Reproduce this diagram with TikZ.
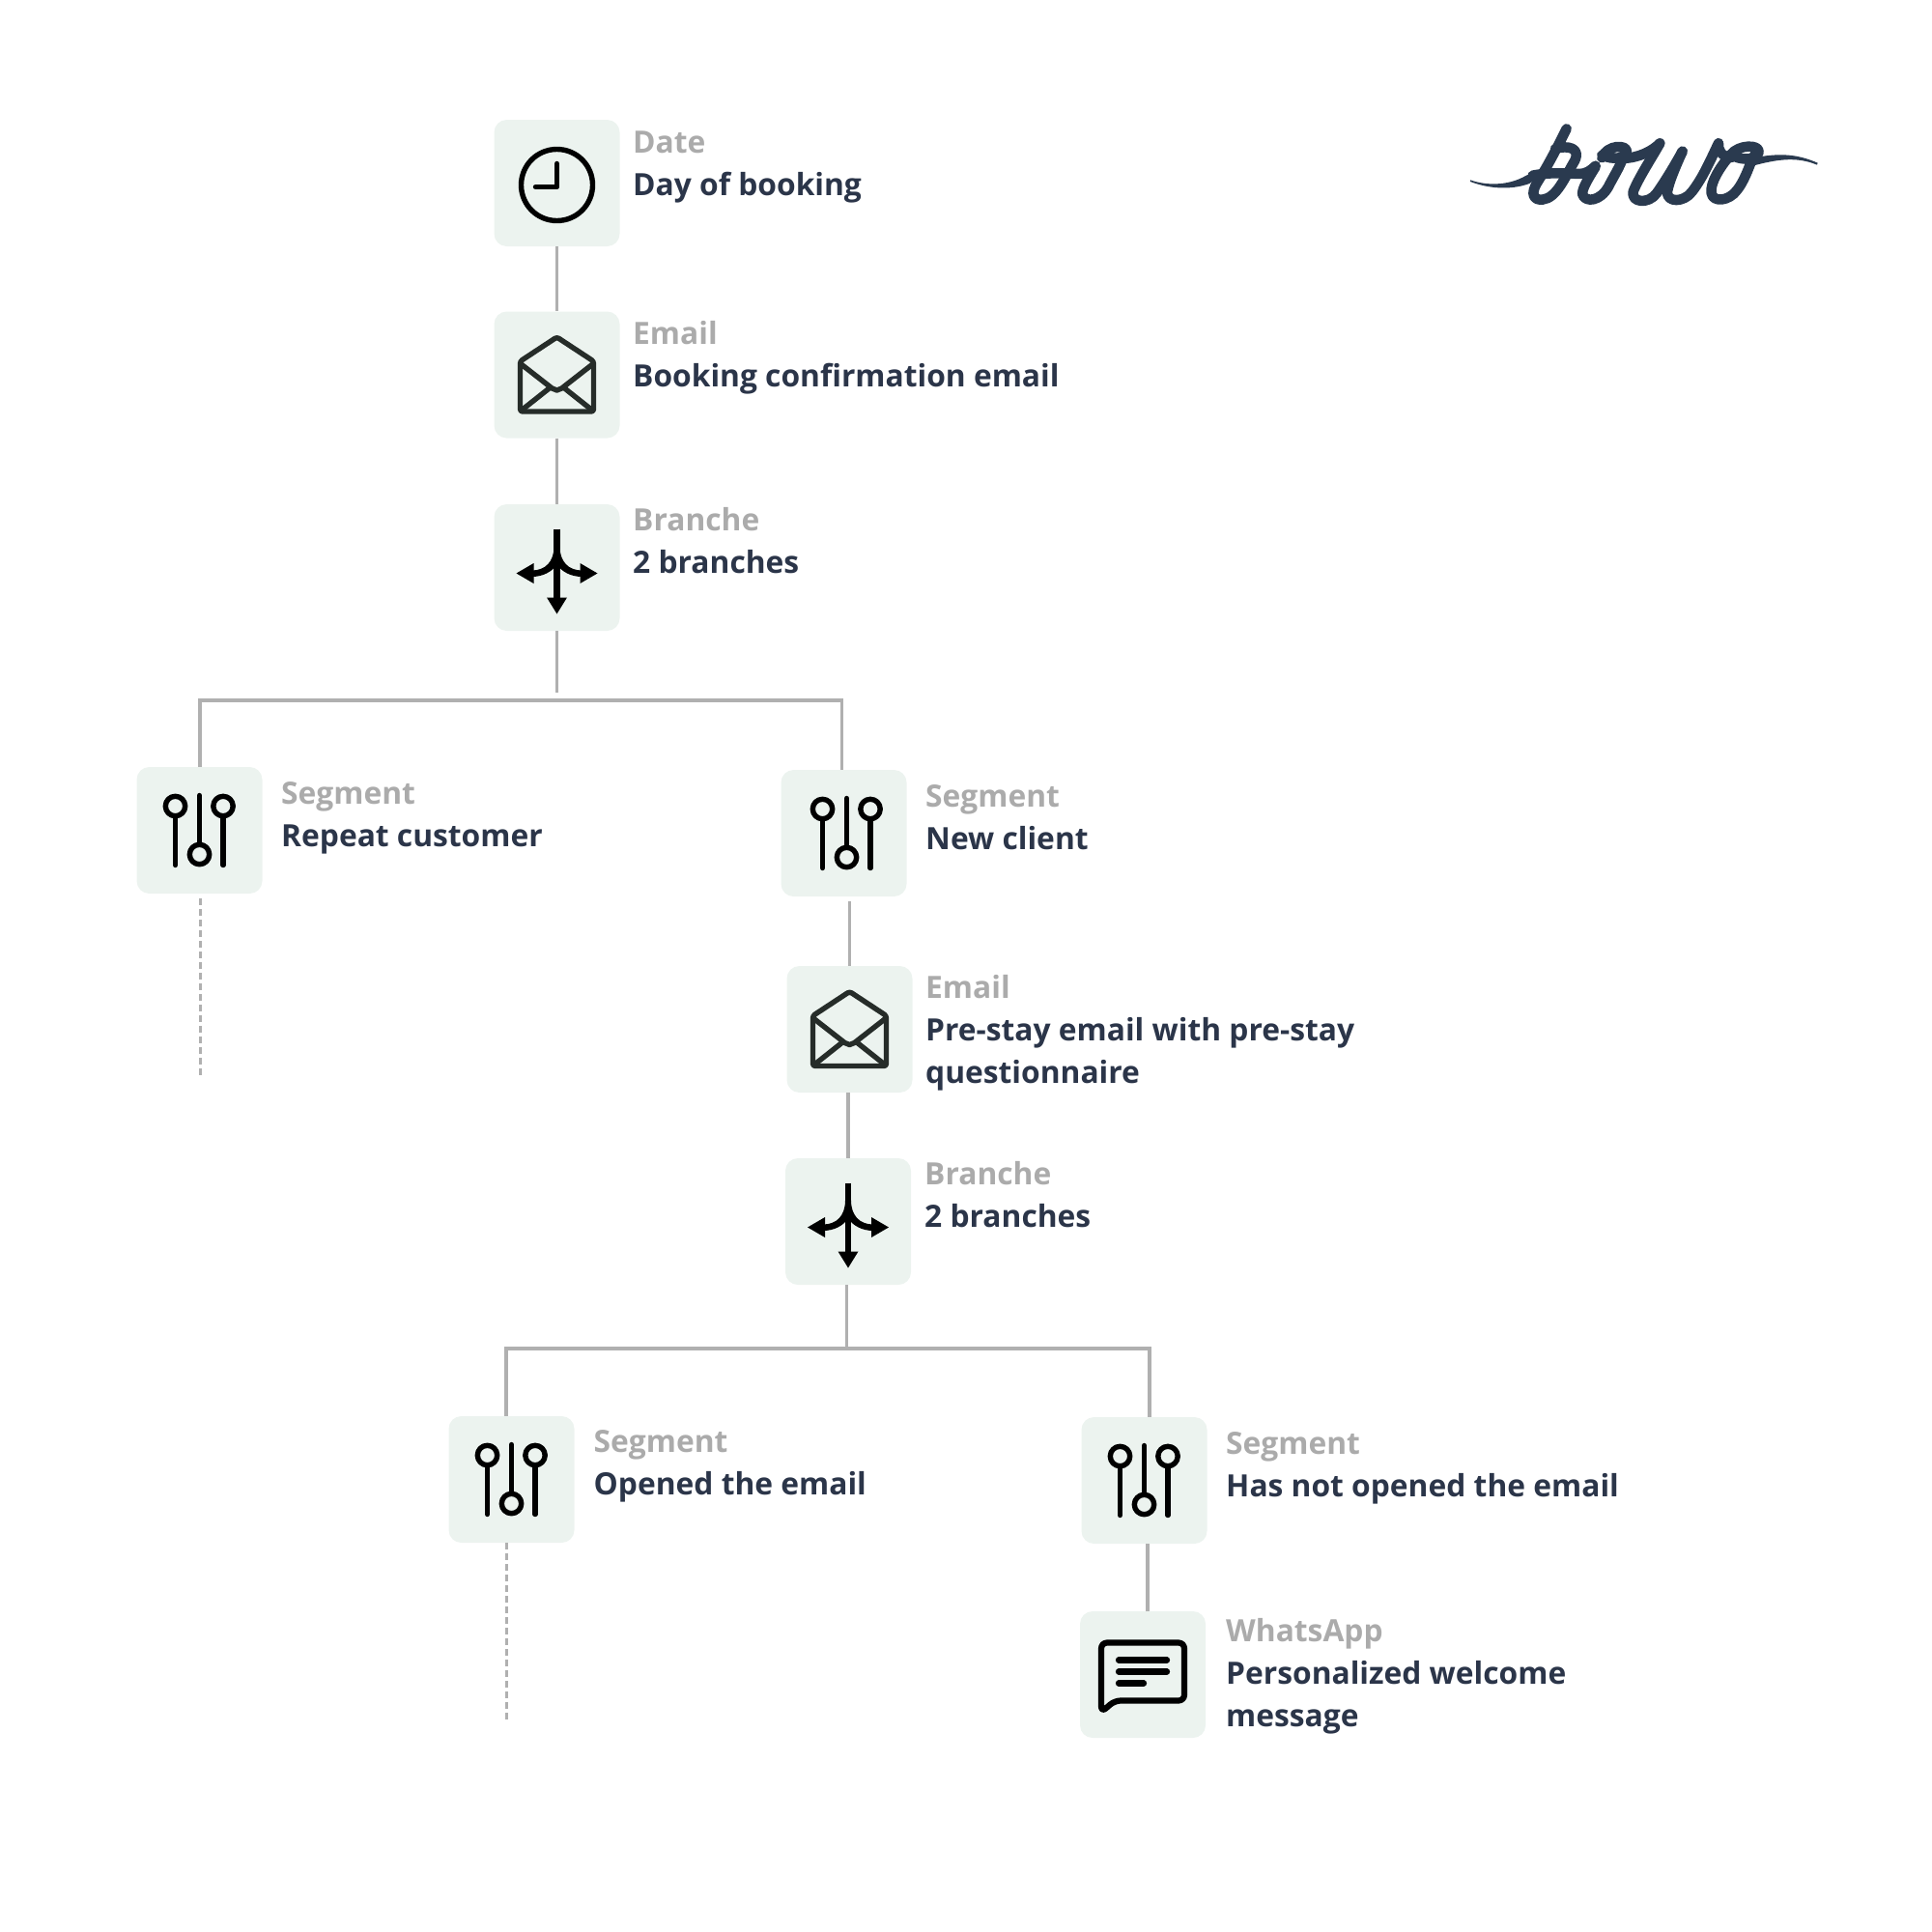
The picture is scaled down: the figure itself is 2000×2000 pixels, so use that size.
\documentclass[tikz,border=0pt]{standalone}
\usepackage{fontspec}
\setmainfont{Open Sans}
\usetikzlibrary{calc}
\definecolor{boxfill}{HTML}{ECF3EF}
\definecolor{titlecol}{HTML}{2B3549}
\definecolor{labelcol}{HTML}{ABABAB}
\definecolor{conncol}{HTML}{B0B0B0}
\definecolor{logocol}{HTML}{2A3A4F}
\definecolor{envcol}{HTML}{262C29}
\tikzset{
  iconbox/.style={fill=boxfill,rounded corners=13pt,minimum width=130pt,minimum height=131pt,inner sep=0pt},
  labeltext/.style={anchor=base west,inner sep=0pt,text=labelcol,font=\fontsize{31.75}{44}\selectfont\bfseries},
  titletext/.style={anchor=base west,inner sep=0pt,text=titlecol,align=left,font=\fontsize{31.75}{44}\selectfont\bfseries},
  conn/.style={draw=conncol,line width=3.4pt},
  dashconn/.style={draw=conncol,line width=3pt,dash pattern=on 7pt off 4pt},
  ic/.style={draw=black,line width=5.4pt,line cap=round,line join=round},
  clockicon/.pic={
    \draw[ic] (0,2) circle[radius=37];
    \draw[ic] (0,-20) -- (0,4) -- (-22,4);
  },
  envicon/.pic={
    \draw[ic,draw=envcol,rounded corners=2.5pt] (-38,-14) -- (0,-39) -- (38,-14) -- (38,38) -- (-38,38) -- cycle;
    \draw[ic,draw=envcol] (-37,-11) -- (-5,14) -- (0,16) -- (5,14) -- (37,-11);
    \draw[ic,draw=envcol] (-37,37) -- (-8,14);
    \draw[ic,draw=envcol] (37,37) -- (8,14);
  },
  forkicon/.pic={
    \draw[black,line width=6.5pt] (0,-40) -- (0,34);
    \fill[black] (-3,-22) .. controls (-3,-6) and (-12,3) .. (-26,3) -- (-26,9.5) .. controls (-14,9.5) and (-5,4) .. (0,-3) .. controls (5,4) and (14,9.5) .. (26,9.5) -- (26,3) .. controls (12,3) and (3,-6) .. (3,-22) -- cycle;
    \fill[black] (0,48) -- (-10.5,31) -- (10.5,31) -- cycle;
    \fill[black] (-42,6) -- (-24,-4.5) -- (-24,16.5) -- cycle;
    \fill[black] (42,6) -- (24,-4.5) -- (24,16.5) -- cycle;
  },
  slidericon/.pic={
    \draw[ic] (-25,-25) circle[radius=10.2];
    \draw[ic] (-25,-14) -- (-25,36);
    \draw[ic] (0,-36) -- (0,14);
    \draw[ic] (0,25) circle[radius=10.2];
    \draw[ic] (24.5,-25) circle[radius=10.2];
    \draw[ic] (24.5,-14) -- (24.5,36);
  },
  chaticon/.pic={
    \draw[ic,line width=6.2pt,rounded corners=6pt] (-43,39) -- (-43,-33) -- (43,-33) -- (43,27) -- (-29,27) -- cycle;
    \draw[ic,line width=6.2pt] (-25,-15) -- (25,-15);
    \draw[ic,line width=6.2pt] (-25,-3) -- (25,-3);
    \draw[ic,line width=6.2pt] (-25,9) -- (1,9);
  }
}
\begin{document}
\begin{tikzpicture}[x=1pt,y=-1pt]
\useasboundingbox (0,0) rectangle (2000,2000);
% boxes
\node[iconbox] (date) at (576.5,189.5) {};
\node[iconbox] (emaila) at (576.5,388) {};
\node[iconbox] (brancha) at (576.5,587.5) {};
\node[iconbox] (repeat) at (206.5,859.5) {};
\node[iconbox] (newc) at (873.5,862.5) {};
\node[iconbox] (emailb) at (879.5,1065.5) {};
\node[iconbox] (branchb) at (878,1264.5) {};
\node[iconbox] (opened) at (529.5,1531.5) {};
\node[iconbox] (notopened) at (1184.5,1532.5) {};
\node[iconbox] (whats) at (1183,1733.5) {};
% icons
\pic at (date) {clockicon};
\pic at (emaila) {envicon};
\pic at (brancha) {forkicon};
\pic at (repeat) {slidericon};
\pic at ($(newc)+(3,0)$) {slidericon};
\pic at (emailb) {envicon};
\pic at (branchb) {forkicon};
\pic at (opened) {slidericon};
\pic at (notopened) {slidericon};
\pic at (whats) {chaticon};
% text
\node[labeltext] (t1a) at (655,158) {Date};
\node[titletext] (t1b) at (655,202) {Day of booking};
\node[labeltext] (t2a) at (655,356) {Email};
\node[titletext] (t2b) at (655,400) {Booking confirmation email};
\node[labeltext] (t3a) at (655,549) {Branche};
\node[titletext] (t3b) at (655,593) {2 branches};
\node[labeltext] (t4a) at (291,832) {Segment};
\node[titletext] (t4b) at (291,876) {Repeat customer};
\node[labeltext] (t5a) at (958,835) {Segment};
\node[titletext] (t5b) at (958,879) {New client};
\node[labeltext] (t6a) at (958,1033) {Email};
\node[titletext] (t6b) at (958,1077) {Pre-stay email with pre-stay};
\node[titletext] (t6c) at (958,1121) {questionnaire};
\node[labeltext] (t7a) at (957,1226) {Branche};
\node[titletext] (t7b) at (957,1270) {2 branches};
\node[labeltext] (t8a) at (614.5,1503) {Segment};
\node[titletext] (t8b) at (614.5,1547) {Opened the email};
\node[labeltext] (t9a) at (1269,1505) {Segment};
\node[titletext] (t9b) at (1269,1549) {Has not opened the email};
\node[labeltext] (t10a) at (1269,1699) {WhatsApp};
\node[titletext] (t10b) at (1269,1743) {Personalized welcome};
\node[titletext] (t10c) at (1269,1787) {message};
% junction coordinates
\coordinate (ja) at (576.5,717);
\coordinate (jal) at (207,725);
\coordinate (jar) at (871.5,725);
\coordinate (da) at (207,1113);
\coordinate (jb) at (876.5,1396);
\coordinate (jbl) at (524,1396);
\coordinate (jbr) at (1190,1396);
\coordinate (db) at (524,1780);
\coordinate (jw) at (1188,1668);
% connectors
\draw[conn] (date.south) -- (emaila.north);
\draw[conn] (emaila.south) -- (brancha.north);
\draw[conn] (brancha.south) -- (ja);
\draw[conn] (jal |- repeat.north) -- (jal) -- (jar) -- (jar |- newc.north);
\draw[dashconn] ($(jal |- repeat.south)+(0,5)$) -- (da);
\draw[conn] ($(emailb.north |- newc.south)+(0,5)$) -- (emailb.north);
\draw[conn] (emailb.south -| branchb.south) -- (branchb.north);
\draw[conn] (jb |- branchb.south) -- (jb);
\draw[conn] (jbl |- opened.north) -- (jbl) -- (jbr) -- (jbr |- notopened.north);
\draw[dashconn] (jbl |- opened.south) -- (db);
\draw[conn] (jw) -- (jw |- notopened.south);
% logo
\begin{scope}[xshift=1480pt,yshift=-100pt,x=0.3333pt,y=-0.3333pt]
\fill[logocol] (126,259) .. controls (170,275) and (240,280) .. (300,245) -- (345,225) -- (345,245) -- (310,270) .. controls (250,292) and (180,285) .. (126,264) -- cycle;
\fill[logocol] (1205,206) .. controls (1150,182) and (1100,175) .. (1030,186) -- (985,195) -- (995,217) -- (1035,207) .. controls (1100,192) and (1150,190) .. (1203,212) -- cycle;
\begin{scope}[draw=logocol,line width=10.5pt,line cap=round,line join=round]
\draw (425,100) .. controls (400,150) and (370,210) .. (335,265) .. controls (310,305) and (325,322) .. (350,320) .. controls (395,315) and (420,250) .. (450,200) .. controls (470,160) and (430,150) .. (390,162);
\draw (320,245) .. controls (370,235) and (420,238) .. (465,240) .. controls (485,240) and (500,230) .. (515,215);
\draw (515,218) .. controls (495,250) and (470,290) .. (475,305) .. controls (485,330) and (530,325) .. (555,280) .. controls (570,250) and (590,220) .. (600,190);
\draw (535,190) .. controls (550,148) and (615,148) .. (612,172) .. controls (608,192) and (570,198) .. (535,182);
\draw (600,192) .. controls (650,190) and (690,170) .. (715,145);
\draw (715,145) .. controls (690,190) and (650,250) .. (632,295) .. controls (625,330) and (680,335) .. (705,300) .. controls (730,265) and (760,215) .. (785,170);
\draw (785,170) .. controls (765,215) and (745,260) .. (738,295) .. controls (735,330) and (790,330) .. (815,295) .. controls (850,250) and (875,190) .. (897,145);
\draw (897,145) .. controls (895,165) and (905,185) .. (935,190);
\draw (1005,185) .. controls (990,225) and (975,265) .. (955,290) .. controls (930,325) and (880,330) .. (875,300) .. controls (870,270) and (900,220) .. (935,180) .. controls (960,148) and (1025,148) .. (1022,172) .. controls (1018,195) and (975,200) .. (945,185);
\end{scope}
\end{scope}
\end{tikzpicture}
\end{document}
